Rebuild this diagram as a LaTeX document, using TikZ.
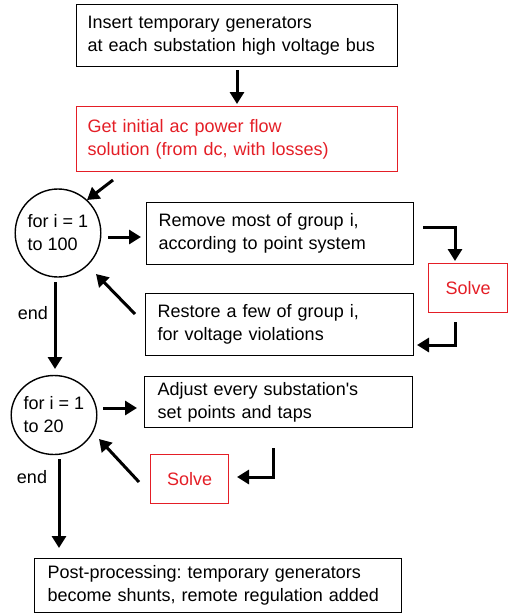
\documentclass[tikz,border=0pt]{standalone}
\usepackage{fontspec}
\setmainfont{Liberation Sans}
\usetikzlibrary{arrows.meta,shapes.geometric}
\definecolor{solvered}{RGB}{228,30,38}
\frenchspacing
\begin{document}
\begin{tikzpicture}[x=1pt,y=-1pt,
  txt/.style={font=\fontsize{18}{23}\selectfont},
  box/.style={txt, draw, line width=1.4pt, anchor=north west, align=left, inner xsep=11pt, inner ysep=0pt},
  redbox/.style={box, draw=solvered, text=solvered},
  loopc/.style={txt, draw, ellipse, line width=1.4pt, align=left, inner sep=0pt},
  arr/.style={line width=3pt, -{Triangle[length=12pt,width=14pt]}, line join=miter},
  lbl/.style={txt}]
\useasboundingbox (0,0) rectangle (511,614);

\node[box, minimum width=321pt, minimum height=62pt, text width=299pt] (b1) at (76,4)
  {Insert temporary generators\\at each substation high voltage bus};
\node[redbox, minimum width=321pt, minimum height=65pt, text width=299pt] (b2) at (76,106)
  {Get initial ac power flow\\solution (from dc, with losses)};
\node[loopc, minimum width=83pt, minimum height=88pt] (c1) at (58,233) {for i = 1\\to 100};
\node[box, minimum width=267pt, minimum height=62pt, text width=243pt, inner xsep=12pt] (b3) at (146,202)
  {Remove most of group i,\\according to point system};
\node[redbox, minimum width=79pt, minimum height=49pt, align=center, text width=57pt] (s1) at (428,263) {Solve};
\node[box, minimum width=268pt, minimum height=62pt, text width=244pt, inner xsep=12pt] (b4) at (145,293)
  {Restore a few of group i,\\for voltage violations};
\node[lbl] (e1) at (33,313) {end};
\node[loopc, minimum width=84pt, minimum height=79pt] (c2) at (54,415) {for i = 1\\to 20};
\node[box, minimum width=268pt, minimum height=51pt, text width=242pt, inner xsep=13pt] (b5) at (144,376)
  {Adjust every substation\textquotesingle s\\set points and taps};
\node[redbox, minimum width=78pt, minimum height=49pt, align=center, text width=56pt] (s2) at (150,454) {Solve};
\node[lbl] (e2) at (32,477) {end};
\node[box, minimum width=367pt, minimum height=54pt, text width=341pt, inner xsep=13pt] (b6) at (34,558)
  {Post-processing: temporary generators\\become shunts, remote regulation added};

% connector end points
\coordinate (a1s) at (237,70);  \coordinate (a1e) at (237,104);
\coordinate (a2s) at (113,180); \coordinate (a2e) at (87,200);
\coordinate (a3s) at (108,237); \coordinate (a3e) at (141,237);
\coordinate (a4s) at (423,227); \coordinate (a4e) at (455,261);
\coordinate (a5s) at (455,322); \coordinate (a5e) at (417,345);
\coordinate (a6s) at (135,314); \coordinate (a6e) at (96,274);
\coordinate (a7s) at (55,282);  \coordinate (a7e) at (55,369);
\coordinate (a8s) at (103,408); \coordinate (a8e) at (137,408);
\coordinate (a9s) at (273,448); \coordinate (a9e) at (237,477);
\coordinate (a10s) at (139,482); \coordinate (a10e) at (99,439);
\coordinate (a11s) at (59,459); \coordinate (a11e) at (59,548);

\draw[arr] (a1s) -- (a1e);
\draw[arr] (a2s) -- (a2e);
\draw[arr] (a3s) -- (a3e);
\draw[arr] (a4s) -| (a4e);
\draw[arr] (a5s) |- (a5e);
\draw[arr] (a6s) -- (a6e);
\draw[arr] (a7s) -- (a7e);
\draw[arr] (a8s) -- (a8e);
\draw[arr] (a9s) |- (a9e);
\draw[arr] (a10s) -- (a10e);
\draw[arr] (a11s) -- (a11e);
\end{tikzpicture}
\end{document}
